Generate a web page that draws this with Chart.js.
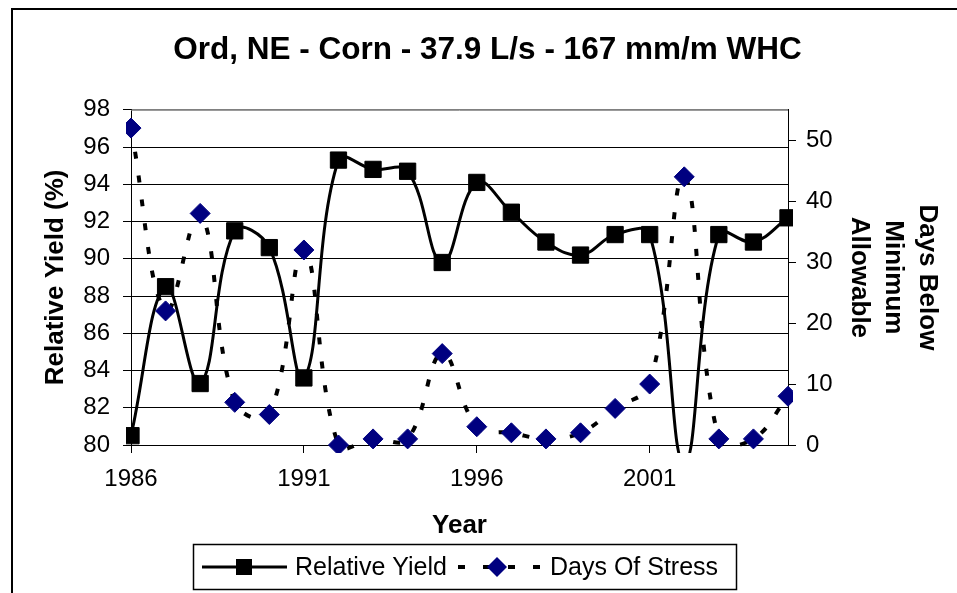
<!DOCTYPE html>
<html>
<head>
<meta charset="utf-8">
<script src="https://cdn.jsdelivr.net/npm/chart.js@4.4.1/dist/chart.umd.min.js"></script>
<style>
  html, body { margin: 0; padding: 0; background: #fff; overflow: hidden; }
  #box { position: relative; width: 957px; height: 593px; }
</style>
</head>
<body>
<div id="box"><canvas id="chart" width="957" height="593"></canvas></div>
<script>
// data
const years = ['1986', '1987', '1988', '1989', '1990', '1991', '1992', '1993', '1994', '1995',
               '1996', '1997', '1998', '1999', '2000', '2001', '2002', '2003', '2004', '2005'];
const relativeYield = [80.5, 88.5, 83.3, 91.5, 90.6, 83.6, 95.3, 94.8, 94.7, 89.8,
                       94.1, 92.5, 90.9, 90.2, 91.3, 91.3, 79.0, 91.3, 90.9, 92.2];
const daysOfStress = [52, 22, 38, 7, 5, 32, 0, 1, 1, 15,
                      3, 2, 1, 2, 6, 10, 44, 1, 1, 8];
const yieldTicks = [80, 98, 2];   // min, max, step
const daysTicks = [0, 55, 10];

Chart.defaults.font.family = "'Liberation Sans', Arial, sans-serif";
Chart.defaults.color = '#000';

// outer frame + custom legend (line sample with marker, like the Excel one)
const decor = {
  id: 'decor',
  afterDraw(chart) {
    const ctx = chart.ctx;
    const area = chart.chartArea;
    ctx.save();
    // outer chart frame
    ctx.strokeStyle = '#000';
    ctx.lineWidth = 2;
    ctx.strokeRect(12, 9, 2000, 2000);
    // plot area top border (grey)
    ctx.strokeStyle = '#808080';
    ctx.lineWidth = 1;
    ctx.beginPath();
    ctx.moveTo(area.left, area.top + 0.5);
    ctx.lineTo(area.right, area.top + 0.5);
    ctx.stroke();

    // legend box
    ctx.strokeStyle = '#000';
    ctx.lineWidth = 1.5;
    ctx.strokeRect(193.5, 544.5, 543, 45);
    const ly = 567;
    const ds = chart.data.datasets;
    ctx.font = "25px 'Liberation Sans', Arial, sans-serif";
    ctx.fillStyle = '#000';
    ctx.textBaseline = 'middle';

    // Relative Yield sample
    ctx.lineWidth = 3;
    ctx.beginPath();
    ctx.moveTo(202, ly);
    ctx.lineTo(287, ly);
    ctx.stroke();
    ctx.fillRect(244 - 8, ly - 8, 16, 16);
    ctx.fillText(ds[1].label, 295, ly + 1);

    // Days Of Stress sample
    ctx.lineWidth = 4;
    ctx.setLineDash([7, 18]);
    ctx.beginPath();
    ctx.moveTo(458, ly);
    ctx.lineTo(542, ly);
    ctx.stroke();
    ctx.setLineDash([]);
    ctx.fillStyle = '#000080';
    ctx.beginPath();
    ctx.moveTo(497, ly - 10);
    ctx.lineTo(507, ly);
    ctx.lineTo(497, ly + 10);
    ctx.lineTo(487, ly);
    ctx.closePath();
    ctx.fill();
    ctx.fillStyle = '#000';
    ctx.fillText(ds[0].label, 550, ly + 1);
    ctx.restore();
  }
};

new Chart(document.getElementById('chart'), {
  type: 'line',
  data: {
    labels: years,
    datasets: [
      {
        label: 'Days Of Stress',
        data: daysOfStress,
        yAxisID: 'y1',
        order: 0,
        borderColor: '#000',
        borderWidth: 4,
        borderDash: [7, 17],
        borderCapStyle: 'butt',
        tension: 0.4,
        pointStyle: 'rectRot',
        pointRadius: 10,
        pointBackgroundColor: '#000080',
        pointBorderColor: '#000080',
        pointBorderWidth: 1,
        clip: { left: 5, top: 5, right: 5, bottom: 8 }
      },
      {
        label: 'Relative Yield',
        data: relativeYield,
        yAxisID: 'y',
        order: 1,
        borderColor: '#000',
        borderWidth: 3,
        tension: 0.4,
        pointStyle: 'rect',
        pointRadius: 11.5,
        pointBackgroundColor: '#000',
        pointBorderColor: '#000',
        pointBorderWidth: 1,
        clip: { left: 5, top: 5, right: 5, bottom: 8 }
      }
    ]
  },
  options: {
    responsive: false,
    animation: false,
    devicePixelRatio: 1,
    elements: { line: { capBezierPoints: false } },
    layout: { padding: { left: 18, right: 0, top: 0, bottom: 48 } },
    plugins: {
      legend: { display: false },
      tooltip: { enabled: false },
      title: {
        display: true,
        text: 'Ord, NE - Corn - 37.9 L/s - 167 mm/m WHC',
        color: '#000',
        font: { size: 31.5, weight: 'bold' },
        padding: { top: 31, bottom: 41 }
      }
    },
    scales: {
      x: {
        type: 'category',
        offset: false,
        afterFit(s) { s.height = 100; },
        border: { color: '#000', width: 1 },
        grid: {
          drawOnChartArea: false,
          tickLength: 8,
          color: c => (c.index % 5 === 0 ? '#000' : 'rgba(0,0,0,0)'),
          tickColor: c => (c.index % 5 === 0 ? '#000' : 'rgba(0,0,0,0)')
        },
        ticks: {
          autoSkip: false,
          maxRotation: 0,
          padding: 12,
          font: { size: 24 },
          callback(v, i) { return i % 5 === 0 ? years[i] : ''; }
        },
        title: {
          display: true,
          text: 'Year',
          font: { size: 26, weight: 'bold' },
          padding: { top: 0, bottom: 4 }
        }
      },
      y: {
        position: 'left',
        min: yieldTicks[0],
        max: yieldTicks[1],
        afterFit(s) { s.width = 113; },
        border: { color: '#000', width: 1 },
        grid: {
          color: c => (c.tick && c.tick.value === yieldTicks[1] ? '#808080' : '#000'),
          tickColor: '#000',
          tickLength: 8,
          lineWidth: 1
        },
        ticks: { stepSize: yieldTicks[2], padding: 13, font: { size: 24 } },
        title: {
          display: true,
          text: 'Relative Yield (%)',
          font: { size: 26, weight: 'bold' },
          padding: { top: 22, bottom: 0 }
        }
      },
      y1: {
        position: 'right',
        min: daysTicks[0],
        max: daysTicks[1],
        afterFit(s) { s.width = 169; },
        afterBuildTicks(s) { s.ticks = s.ticks.filter(t => t.value <= 50); },
        border: { color: '#000', width: 1 },
        grid: { drawOnChartArea: false, tickColor: '#000', tickLength: 8 },
        ticks: { stepSize: daysTicks[2], padding: 10, font: { size: 24 } },
        title: {
          display: true,
          text: ['Days Below', 'Minimum', 'Allowable'],
          font: { size: 26, weight: 'bold', lineHeight: 1.3 },
          padding: { top: 13, bottom: 0 }
        }
      }
    }
  },
  plugins: [decor]
});
</script>
</body>
</html>
